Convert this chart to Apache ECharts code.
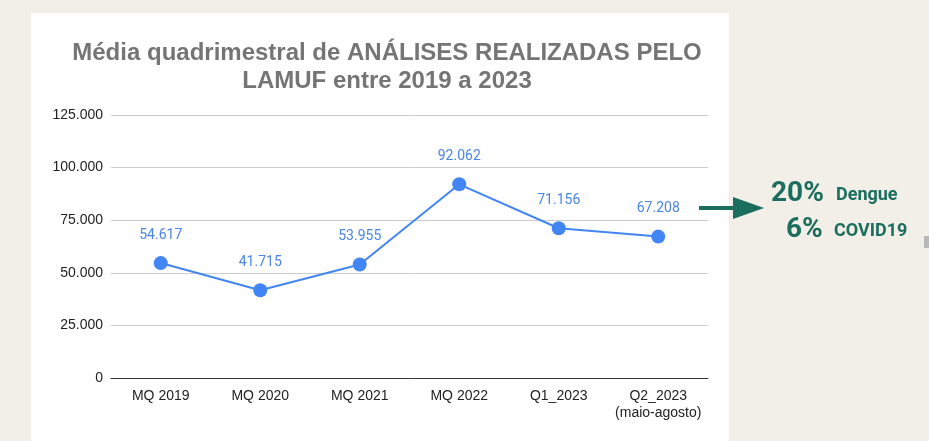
<!DOCTYPE html>
<html>
<head>
<meta charset="UTF-8">
<title>Análises LAMUF</title>
<script src="https://cdn.jsdelivr.net/npm/echarts@6/dist/echarts.min.js"></script>
<style>
html, body { margin: 0; padding: 0; background: #f2eee8; }
#main { width: 929px; height: 441px; }
</style>
</head>
<body>
<div id="main"></div>
<script type="text/javascript">
// dados
var categorias = ['MQ 2019', 'MQ 2020', 'MQ 2021', 'MQ 2022', 'Q1_2023', 'Q2_2023\n(maio-agosto)'];
var analises = [54617, 41715, 53955, 92062, 71156, 67208];
var eixoY = { min: 0, max: 125000, interval: 25000 };

// formata número com ponto como separador de milhar
function fmt(v) {
    return String(v).replace(/\B(?=(\d{3})+(?!\d))/g, '.');
}

var myChart = echarts.init(document.getElementById('main'));

var teal = '#1b6e5e';

var option = {
    backgroundColor: '#f2eee8',
    title: {
        text: 'Média quadrimestral de ANÁLISES REALIZADAS PELO\nLAMUF entre 2019 a 2023',
        left: 382,
        top: 34,
        textAlign: 'center',
        textStyle: {
            fontFamily: 'Liberation Sans, Arial',
            fontWeight: 'bold',
            fontSize: 24,
            lineHeight: 28,
            color: '#757575'
        }
    },
    grid: { left: 111, right: 221, top: 115, bottom: 63 },
    xAxis: {
        type: 'category',
        data: categorias,
        axisTick: { show: false },
        axisLine: { lineStyle: { color: '#333', width: 1 } },
        axisLabel: {
            interval: 0,
            margin: 10,
            fontFamily: 'Liberation Sans, Arial',
            fontSize: 14,
            lineHeight: 17,
            color: '#222'
        }
    },
    yAxis: {
        type: 'value',
        min: eixoY.min,
        max: eixoY.max,
        interval: eixoY.interval,
        axisLine: { show: false },
        axisTick: { show: false },
        splitLine: { lineStyle: { color: '#cccccc' } },
        axisLabel: {
            margin: 8,
            fontFamily: 'Liberation Sans, Arial',
            fontSize: 14,
            color: '#222',
            formatter: function (v) { return fmt(v); }
        }
    },
    series: [{
        name: 'Análises',
        type: 'line',
        data: analises,
        symbol: 'circle',
        symbolSize: 14,
        itemStyle: { color: '#4285f4' },
        lineStyle: { color: '#4285f4', width: 2 },
        label: {
            show: true,
            position: 'top',
            distance: 14,
            fontFamily: 'Roboto, Liberation Sans',
            fontSize: 14,
            color: '#4a86e8',
            formatter: function (p) { return fmt(p.value); }
        }
    }],
    graphic: [
        {
            type: 'rect', z: -1,
            shape: { x: 31, y: 13, width: 698, height: 428 },
            style: { fill: '#ffffff' }
        },
        {
            type: 'rect',
            shape: { x: 924, y: 236, width: 5, height: 12 },
            style: { fill: '#b8b8b8' }
        },
        {
            type: 'line',
            shape: { x1: 699, y1: 208, x2: 738, y2: 208 },
            style: { stroke: teal, lineWidth: 4 }
        },
        {
            type: 'polygon',
            shape: { points: [[733, 197], [764, 208], [733, 219]] },
            style: { fill: teal }
        },
        {
            type: 'text',
            style: { x: 771, y: 180, text: '20%', fill: teal, font: 'bold 28px Roboto' }
        },
        {
            type: 'text',
            style: { x: 836, y: 186, text: 'Dengue', fill: teal, font: 'bold 18px Roboto' }
        },
        {
            type: 'text',
            style: { x: 786, y: 216, text: '6%', fill: teal, font: 'bold 28px Roboto' }
        },
        {
            type: 'text',
            style: { x: 834, y: 222, text: 'COVID19', fill: teal, font: 'bold 18px Roboto' }
        }
    ]
};

myChart.setOption(option);
</script>
</body>
</html>
